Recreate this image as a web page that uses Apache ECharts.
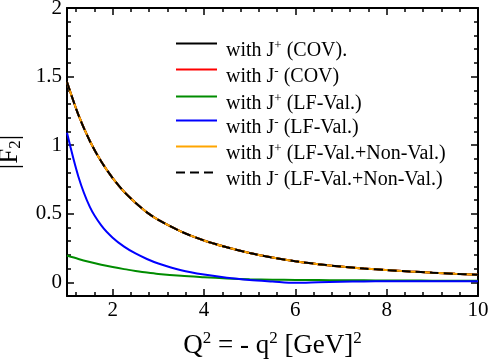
<!DOCTYPE html>
<html>
<head>
<meta charset="utf-8">
<script src="https://cdn.jsdelivr.net/npm/echarts@6/dist/echarts.min.js"></script>
<style>
  html, body { margin: 0; padding: 0; background: #fff; }
  #chart { width: 491px; height: 359px; }
</style>
</head>
<body>
<div id="chart"></div>
<script>
// Q^2 sample points (GeV^2)
var q2 = [1, 1.25, 1.5, 1.75, 2, 2.25, 2.5, 2.75, 3, 3.5, 4, 4.5, 5, 5.5, 6, 6.5, 7, 7.5, 8, 8.5, 9, 9.5, 10];
// |F2|
var covPlus = [1.46, 1.22, 1.03, 0.88, 0.76, 0.66, 0.58, 0.51, 0.455, 0.37, 0.305, 0.255, 0.213, 0.18, 0.153, 0.132, 0.115, 0.1, 0.089, 0.079, 0.07, 0.062, 0.055];
var covMinus = covPlus; // lies under the J+ COV curve
var lfValPlus = [0.195, 0.17, 0.148, 0.128, 0.111, 0.096, 0.083, 0.071, 0.061, 0.047, 0.037, 0.028, 0.022, 0.019, 0.017, 0.016, 0.015, 0.014, 0.013, 0.013, 0.012, 0.012, 0.012];
var lfValMinus = [1.09, 0.77, 0.55, 0.415, 0.325, 0.26, 0.21, 0.17, 0.137, 0.088, 0.056, 0.033, 0.017, 0.006, -0.004, 0, 0.004, 0.006, 0.007, 0.007, 0.007, 0.007, 0.007];
var fullPlus = covPlus;
var fullMinus = covPlus;

var xMajor = [2, 4, 6, 8, 10];
var xMinor = [1.2, 1.6, 2.4, 2.8, 3.2, 3.6, 4.4, 4.8, 5.2, 5.6, 6.4, 6.8, 7.2, 7.6, 8.4, 8.8, 9.2, 9.6];
var yMajor = [0, 0.5, 1, 1.5, 2];
var yMinor = [0.1, 0.2, 0.3, 0.4, 0.6, 0.7, 0.8, 0.9, 1.1, 1.2, 1.3, 1.4, 1.6, 1.7, 1.8, 1.9];

var names = [
  "{t|with J}{s|+}{t| (COV).}",
  "{t|with J}{s|-}{t| (COV)}",
  "{t|with J}{s|+}{t| (LF-Val.)}",
  "{t|with J}{s|-}{t| (LF-Val.)}",
  "{t|with J}{s|+}{t| (LF-Val.+Non-Val.)}",
  "{t|with J}{s|-}{t| (LF-Val.+Non-Val.)}"
];

function pairs(ys) {
  return q2.map(function (x, i) { return [x, ys[i]]; });
}

var myChart = echarts.init(document.getElementById("chart"));
var font = "Liberation Serif";

function xAx(pos, vals, len, labels, line) {
  return {
    type: "value", position: pos, min: 1, max: 10,
    axisLine: { show: line, onZero: false, lineStyle: { color: "#000", width: 2 } },
    axisTick: { show: true, inside: true, length: len, customValues: vals, lineStyle: { color: "#000", width: 1.5 } },
    axisLabel: { show: labels, customValues: vals, color: "#000", fontFamily: font, fontSize: 21, margin: 4 },
    splitLine: { show: false }
  };
}
function yAx(pos, vals, len, labels, line) {
  return {
    type: "value", position: pos, min: -0.1, max: 2,
    axisLine: { show: line, onZero: false, lineStyle: { color: "#000", width: 2 } },
    axisTick: { show: true, inside: true, length: len, customValues: vals, lineStyle: { color: "#000", width: 1.5 } },
    axisLabel: { show: labels, customValues: vals, color: "#000", fontFamily: font, fontSize: 21, margin: 5,
      formatter: function (v) { return String(v); } },
    splitLine: { show: false }
  };
}

var xs = [xAx("bottom", xMajor, 7, true, true), xAx("bottom", xMinor, 4, false, false),
          xAx("top", xMajor, 7, false, true), xAx("top", xMinor, 4, false, false)];
xs[0].name = "{a|Q}{s|2}{a| = - q}{s|2}{a| [GeV]}{s|2}";
xs[0].nameLocation = "middle";
xs[0].nameGap = 34;
xs[0].nameTextStyle = {
  rich: {
    a: { fontFamily: font, fontSize: 27, color: "#000" },
    s: { fontFamily: font, fontSize: 17, color: "#000", padding: [0, 0, 14, 0] }
  }
};
var ys = [yAx("left", yMajor, 7, true, true), yAx("left", yMinor, 4, false, false),
          yAx("right", yMajor, 7, false, true), yAx("right", yMinor, 4, false, false)];
ys[0].name = "{a||F}{s|2}{a||}";
ys[0].nameLocation = "middle";
ys[0].nameRotate = 90;
ys[0].nameGap = 43;
ys[0].nameTextStyle = {
  rich: {
    a: { fontFamily: font, fontSize: 27, color: "#000" },
    s: { fontFamily: font, fontSize: 17, color: "#000", padding: [12, 0, 0, 0] }
  }
};

var legendTops = [38, 64, 91, 115, 141, 167];
var legends = names.map(function (n, i) {
  return {
    data: [n], top: legendTops[i], left: 175, padding: 0,
    itemWidth: 41, itemHeight: 14, selectedMode: false,
    itemStyle: { opacity: 0, borderWidth: 0 },
    textStyle: {
      padding: [14, 0, 0, 4],
      rich: {
        t: { fontFamily: font, fontSize: 20, color: "#000" },
        s: { fontFamily: font, fontSize: 13, color: "#000", padding: [0, 0, 10, 0] }
      }
    }
  };
});

function line(i, ys, color, type, z) {
  return {
    name: names[i], type: "line", data: pairs(ys), smooth: 0.3,
    showSymbol: false, symbol: "none", z: z,
    lineStyle: { color: color, width: 2, type: type },
    itemStyle: { color: color }
  };
}

var option = {
  animation: false,
  grid: { left: 67, right: 13, top: 8, bottom: 63, outerBoundsMode: "none" },
  legend: legends,
  xAxis: xs,
  yAxis: ys,
  series: [
    line(1, covMinus, "#ff0000", "solid", 2),
    line(0, covPlus, "#000000", "solid", 3),
    line(2, lfValPlus, "#008c00", "solid", 4),
    line(3, lfValMinus, "#0000ff", "solid", 5),
    line(4, fullPlus, "#ffa500", "solid", 6),
    line(5, fullMinus, "#000000", [9, 5], 7)
  ]
};

myChart.setOption(option);
</script>
</body>
</html>
